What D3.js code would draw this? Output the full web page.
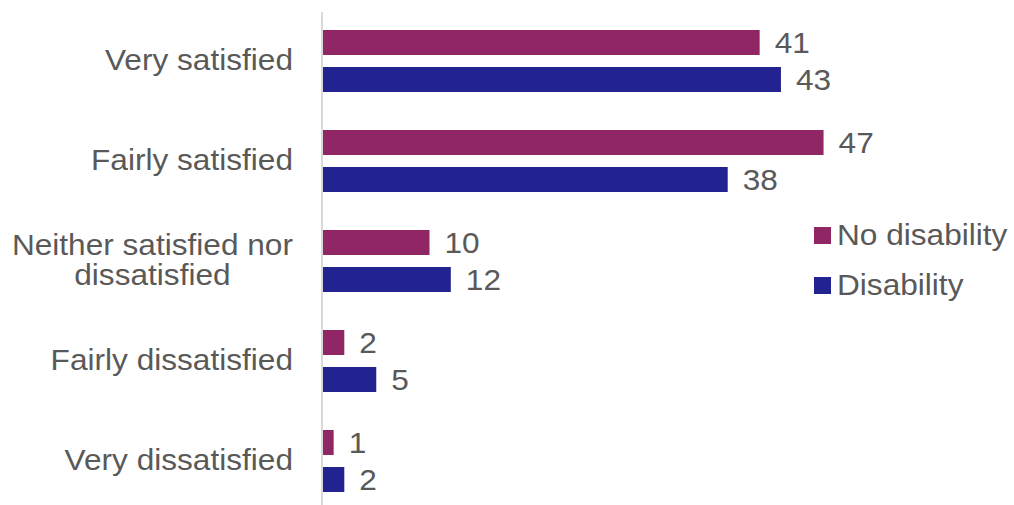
<!DOCTYPE html>
<html>
<head>
<meta charset="utf-8">
<script src="https://cdn.jsdelivr.net/npm/d3@7"></script>
<style>
  html, body { margin: 0; padding: 0; background: #fff; }
  svg { display: block; }
  text { font-family: "Liberation Sans", Arial, sans-serif; fill: #595959; }
</style>
</head>
<body>
<svg id="chart" width="1014" height="505"></svg>
<script>
// Satisfaction responses (%) by disability status
const categories = [
  ["Very satisfied"],
  ["Fairly satisfied"],
  ["Neither satisfied nor", "dissatisfied"],
  ["Fairly dissatisfied"],
  ["Very dissatisfied"]
];
const seriesNames = ["No disability", "Disability"];
const noDisability = [41, 47, 10, 2, 1];
const disability = [43, 38, 12, 5, 2];
const seriesColors = ["#902663", "#222290"];

const seriesValues = [noDisability, disability];
const svg = d3.select("#chart");
const fontSize = 29;
const stretch = 1.09;

const x = d3.scaleLinear().domain([0, 50]).range([323, 323 + 532.5]);
const y = d3.scaleBand()
  .domain(categories.map((c, i) => i))
  .range([11, 511])
  .paddingInner(0.38)
  .paddingOuter(0.19);
const ySub = d3.scaleBand()
  .domain(seriesNames)
  .range([0, y.bandwidth()])
  .paddingInner(12 / 37)
  .paddingOuter(0);

// category axis line
svg.append("line")
  .attr("x1", 322).attr("x2", 322)
  .attr("y1", 12).attr("y2", 505)
  .attr("stroke", "#d9d9d9").attr("stroke-width", 2);

// bars and value labels
seriesNames.forEach((name, s) => {
  const g = svg.append("g");
  g.selectAll("rect")
    .data(seriesValues[s])
    .join("rect")
    .attr("x", x(0))
    .attr("y", (d, i) => y(i) + ySub(name))
    .attr("width", d => x(d) - x(0))
    .attr("height", ySub.bandwidth())
    .attr("fill", seriesColors[s]);
  g.selectAll("text")
    .data(seriesValues[s])
    .join("text")
    .attr("transform", (d, i) =>
      `translate(${x(d) + 15},${y(i) + ySub(name) + ySub.bandwidth() / 2 + 10.5}) scale(${stretch},1)`)
    .style("font-size", fontSize + "px")
    .text(d => d);
});

// category labels (multi-line labels centred as a block, block right-aligned)
const labelRight = 293;
const lineGap = 30;
categories.forEach((lines, i) => {
  const cy = y(i) + y.bandwidth() / 2;
  const t = svg.append("text").style("font-size", fontSize + "px");
  const widths = lines.map(l => {
    t.text(l);
    return t.node().getComputedTextLength() * stretch;
  });
  t.remove();
  const maxW = d3.max(widths);
  const cx = labelRight - maxW / 2;
  const firstBaseline = cy + 9 - (lines.length - 1) * lineGap / 2;
  lines.forEach((l, k) => {
    svg.append("text")
      .attr("text-anchor", "middle")
      .attr("transform", `translate(${cx},${firstBaseline + k * lineGap}) scale(${stretch},1)`)
      .style("font-size", fontSize + "px")
      .text(l);
  });
});

// legend
const legend = svg.append("g");
seriesNames.forEach((name, s) => {
  const ly = 227 + s * 50;
  legend.append("rect")
    .attr("x", 814).attr("y", ly)
    .attr("width", 17).attr("height", 17)
    .attr("fill", seriesColors[s]);
  legend.append("text")
    .attr("transform", `translate(837,${ly + 18}) scale(${stretch},1)`)
    .style("font-size", fontSize + "px")
    .text(name);
});
</script>
</body>
</html>
